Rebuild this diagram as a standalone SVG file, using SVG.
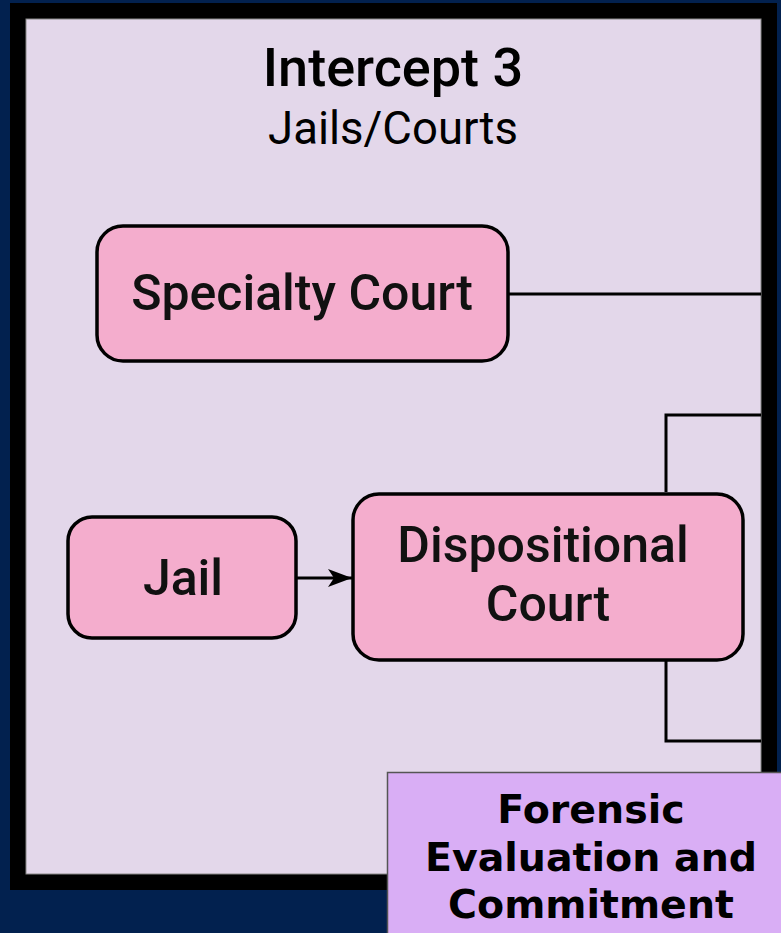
<svg xmlns="http://www.w3.org/2000/svg" width="781" height="933" viewBox="0 0 781 933">
<defs>
<style>
.node rect{fill:#F4ADCD;stroke:#000;stroke-width:3.5}
.node text{font-family:Roboto,"Liberation Sans",sans-serif;font-weight:500;font-size:50px;fill:#111;text-anchor:middle}
.conn{fill:none;stroke:#000;stroke-width:3}
.title{font-family:Roboto,"Liberation Sans",sans-serif;fill:#000;text-anchor:middle}
.fe text{font-family:"DejaVu Sans",Verdana,sans-serif;font-weight:bold;font-size:39.5px;fill:#000;text-anchor:middle}
</style>
<marker id="arrow" viewBox="0 0 24 18" refX="24" refY="9" markerWidth="24" markerHeight="18" markerUnits="userSpaceOnUse" orient="auto">
<path d="M0,0 L24,9 L0,18 L6,9 Z" fill="#000"/>
</marker>
</defs>
<rect x="0" y="0" width="781" height="933" fill="#02214F"/>
<g id="intercept3">
<rect x="18" y="11" width="751" height="871" fill="#E3D7EA" stroke="#000" stroke-width="16"/>
<rect x="26" y="19" width="735" height="855" fill="none" stroke="#888" stroke-width="1"/>
<text class="title" x="393" y="86" font-size="54" font-weight="500">Intercept 3</text>
<text class="title" x="393" y="144" font-size="45.5">Jails/Courts</text>
</g>
<g id="connectors">
<line class="conn" x1="509" y1="294" x2="761" y2="294"/>
<polyline class="conn" points="666,492 666,415 761,415"/>
<polyline class="conn" points="666,661 666,741 761,741"/>
<line class="conn" x1="297" y1="578" x2="352" y2="578" marker-end="url(#arrow)"/>
</g>
<g id="specialty-court" class="node">
<rect x="97" y="226" width="411" height="135" rx="26"/>
<text x="302" y="310">Specialty Court</text>
</g>
<g id="jail" class="node">
<rect x="68" y="517" width="228" height="121" rx="24"/>
<text x="183" y="595">Jail</text>
</g>
<g id="dispositional-court" class="node">
<rect x="353" y="494" width="390" height="166" rx="26"/>
<text x="543" y="562">Dispositional</text>
<text x="548" y="621">Court</text>
</g>
<g id="forensic" class="fe">
<rect x="387.5" y="772.5" width="400" height="170" fill="#D9AEF5" stroke="#555" stroke-width="1.5"/>
<text x="591" y="823">Forensic</text>
<text x="591" y="871">Evaluation and</text>
<text x="591" y="918">Commitment</text>
</g>
</svg>
